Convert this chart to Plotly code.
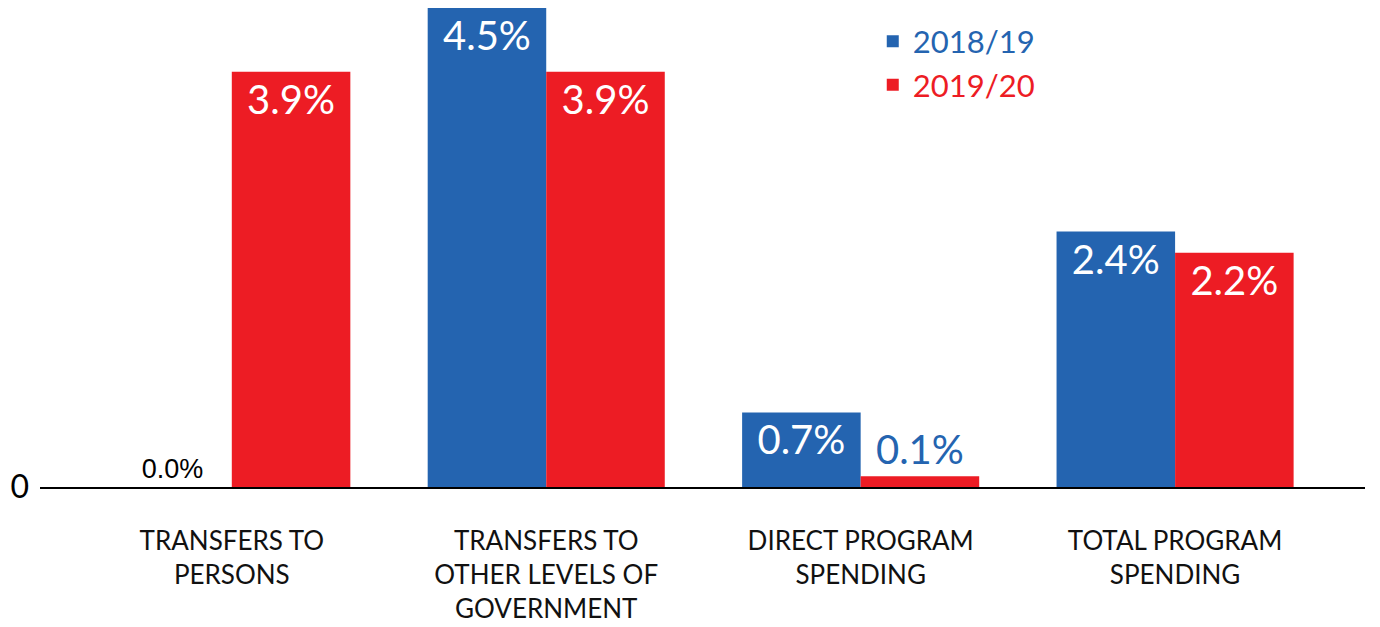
import plotly.graph_objects as go

# categories and values (percent)
categories = ["TRANSFERS TO<br>PERSONS",
              "TRANSFERS TO<br>OTHER LEVELS OF<br>GOVERNMENT",
              "DIRECT PROGRAM<br>SPENDING",
              "TOTAL PROGRAM<br>SPENDING"]
values_1819 = [0.0, 4.5, 0.7, 2.4]
values_1920 = [3.9, 3.9, 0.1, 2.2]

blue = "#2464B0"
red = "#ED1C24"
font_main = "Lato"

def labels(vals):
    return [f"{v:.1f}%" for v in vals]

fig = go.Figure()

fig.add_trace(go.Bar(
    x=categories, y=values_1819, name="<span style='color:%s'>2018/19</span>" % blue,
    marker_color=blue, marker_line_width=0,
    text=labels(values_1819),
    textposition=["outside", "inside", "inside", "inside"],
    insidetextanchor="end", constraintext="none",
    textfont=dict(color=["black", "white", "white", "white"],
                  size=[27, 40, 40, 40],
                  family=["Liberation Sans", font_main, font_main, font_main]),
    cliponaxis=False,
))
fig.add_trace(go.Bar(
    x=categories, y=values_1920, name="<span style='color:%s'>2019/20</span>" % red,
    marker_color=red, marker_line_width=0,
    text=labels(values_1920),
    textposition=["inside", "inside", "outside", "inside"],
    insidetextanchor="end", constraintext="none",
    textfont=dict(color=["white", "white", blue, "white"], size=40, family=font_main),
    cliponaxis=False,
))

# the page body adds an 8px offset, margins are set to compensate
fig.update_layout(
    width=1380, height=627,
    margin=dict(l=32, r=23, t=0, b=148),
    plot_bgcolor="white", paper_bgcolor="white",
    barmode="group", bargap=0.246, bargroupgap=0,
    font=dict(family=font_main, color="black"),
    showlegend=True,
    legend=dict(x=0.6285, y=0.986, xanchor="left", yanchor="top",
                font=dict(size=31, family=font_main),
                bgcolor="rgba(0,0,0,0)", tracegroupgap=8),
)
fig.update_xaxes(
    range=[-0.61, 3.604], showline=True, linecolor="black", linewidth=2,
    showgrid=False, ticks="", tickfont=dict(size=26, family=font_main, color="#111"),
    ticklabelstandoff=30,
)
fig.update_yaxes(
    range=[0, 4.5], showgrid=False, zeroline=False, showline=False,
    tickvals=[0], ticktext=["0"], tickfont=dict(size=32, family=font_main, color="black"),
    ticks="", ticklabelstandoff=10,
)

fig.write_html("out.html")
